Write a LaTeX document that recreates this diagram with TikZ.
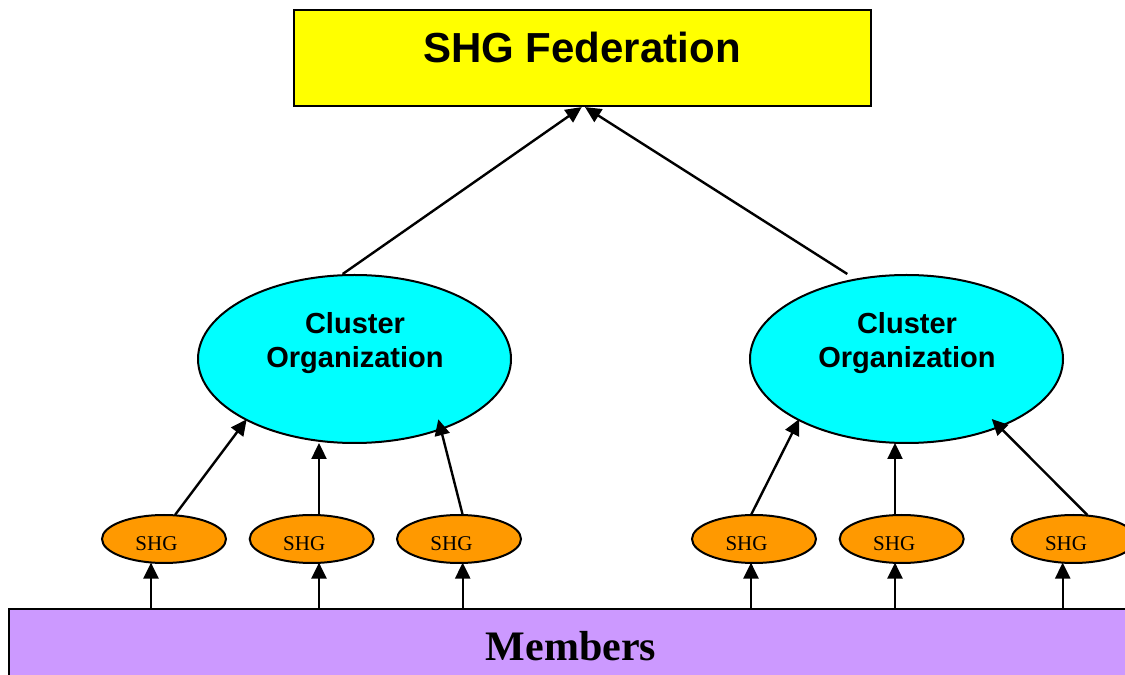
\documentclass[tikz,border=0pt]{standalone}
\usepackage{fontspec}
\setmainfont{Liberation Serif}
\newfontfamily\headfont{Liberation Sans}
\usetikzlibrary{arrows.meta,shapes.geometric}

\definecolor{fedyellow}{HTML}{FFFF00}
\definecolor{clustercyan}{HTML}{00FFFF}
\definecolor{shgorange}{HTML}{FF9900}
\definecolor{memberpurple}{HTML}{CC99FF}

\begin{document}
\begin{tikzpicture}[x=1pt,y=1pt,
  arr/.style={draw=black, line width=2.4pt, -{Triangle[length=16pt,width=15pt]}},
  fedbox/.style={rectangle, draw=black, line width=2.2pt, fill=fedyellow,
    minimum width=577pt, minimum height=96pt, inner sep=0pt},
  cluster/.style={ellipse, draw=black, line width=2pt, fill=clustercyan,
    minimum width=313pt, minimum height=168pt, inner sep=0pt},
  shg/.style={ellipse, draw=black, line width=2pt, fill=shgorange,
    minimum width=124pt, minimum height=48pt, inner sep=0pt},
  memrect/.style={rectangle, draw=black, line width=2pt, fill=memberpurple,
    minimum width=1140pt, minimum height=90pt, inner sep=0pt},
  fedtext/.style={anchor=base, inner sep=0pt,
    font=\headfont\bfseries\fontsize{42}{48}\selectfont},
  cltext/.style={anchor=base, inner sep=0pt,
    font=\headfont\bfseries\fontsize{29}{34}\selectfont},
  shgtext/.style={anchor=base, inner sep=0pt,
    font=\fontsize{21}{24}\selectfont},
  memtext/.style={anchor=base, inner sep=0pt,
    font=\bfseries\fontsize{42}{46}\selectfont}]

\useasboundingbox (0,0) rectangle (1125,675);
\clip (0,0) rectangle (1125,675);
\fill[white] (0,0) rectangle (1125,675);

% Top level: the federation
\node[fedbox] (fed) at (582.5,617) {};
\node[fedtext] (fedlbl) at (582,612) {SHG Federation};

% Members band along the bottom
\node[memrect, anchor=north west] (mem) at (7.5,67) {};
\node[memtext] (memlbl) at (571,15) {Members};

% Cluster organizations
\node[cluster] (clA) at (354.5,316) {};
\node[cltext] (clAl1) at (355,341) {Cluster};
\node[cltext] (clAl2) at (355,307) {Organization};
\node[cluster] (clB) at (906.5,316) {};
\node[cltext] (clBl1) at (907,341) {Cluster};
\node[cltext] (clBl2) at (907,307) {Organization};

% Self-help groups
\foreach \n/\x in {A1/164, A2/311.7, A3/459, B1/754, B2/901.7, B3/1073.5}{
  \node[shg] (shg\n) at (\x,136) {};
  \node[shgtext] (shg\n lbl) at (\x-7.5,124.3) {SHG};
}

% Clusters report to the federation
\draw[arr] ([xshift=-11.8pt]clA.north) -- ([xshift=-0.8pt]fed.south);
\draw[arr] ([xshift=-59.2pt]clB.north) -- ([xshift=2.5pt]fed.south);

% Groups report to their cluster
\draw[arr] ([shift={(11,24)}]shgA1.center) -- ([shift={(-107.8,-60.3)}]clA.center);
\draw[arr] ([shift={(7.3,24)}]shgA2.center) -- ([shift={(-35.5,-84)}]clA.center);
\draw[arr] ([shift={(3.7,24)}]shgA3.center) -- ([shift={(83.8,-60.3)}]clA.center);
\draw[arr] ([shift={(-3,24)}]shgB1.center) -- ([shift={(-107.2,-60)}]clB.center);
\draw[arr] ([shift={(-6.7,24)}]shgB2.center) -- ([shift={(-11.5,-84)}]clB.center);
\draw[arr] ([shift={(13.8,24)}]shgB3.center) -- ([shift={(85.2,-60)}]clB.center);

% Members join the groups
\foreach \n/\dx in {A1/-13, A2/7.3, A3/3.7, B1/-3, B2/-6.7, B3/-10.8}{
  \draw[arr] ([shift={(\dx,-69)}]shg\n.center) -- ([shift={(\dx,-23.6)}]shg\n.center);
}
\end{tikzpicture}
\end{document}
